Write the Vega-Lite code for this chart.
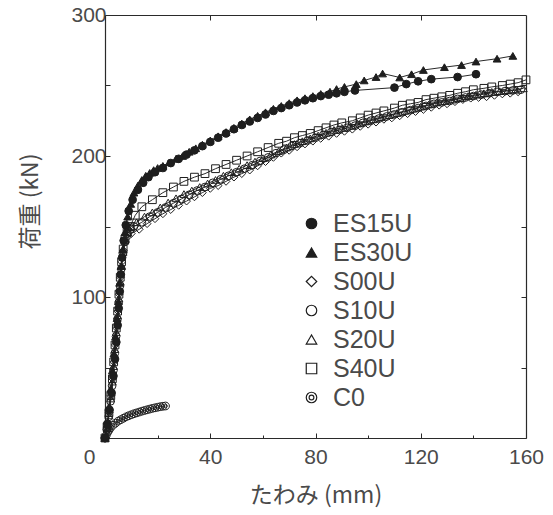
{
  "$schema": "https://vega.github.io/schema/vega-lite/v6.json",
  "autosize": "none",
  "width": 421,
  "height": 423,
  "padding": {"left": 105, "top": 15, "right": 27, "bottom": 77},
  "background": "white",
  "datasets": {
    "pts": [
      {"s":"ES30U","x":0,"y":0},{"s":"ES30U","x":0.8,"y":10},{"s":"ES30U","x":1.5,"y":22},{"s":"ES30U","x":2.2,"y":35},{"s":"ES30U","x":2.8,"y":48},{"s":"ES30U","x":3.4,"y":60},{"s":"ES30U","x":4,"y":72},{"s":"ES30U","x":4.6,"y":85},{"s":"ES30U","x":5.1,"y":97},{"s":"ES30U","x":5.6,"y":110},{"s":"ES30U","x":6.1,"y":122},{"s":"ES30U","x":6.8,"y":134},{"s":"ES30U","x":7.6,"y":146},{"s":"ES30U","x":8.6,"y":157},{"s":"ES30U","x":9.8,"y":166},{"s":"ES30U","x":11,"y":174},{"s":"ES30U","x":12.5,"y":179},{"s":"ES30U","x":14,"y":183},{"s":"ES30U","x":15.5,"y":186},{"s":"ES30U","x":17,"y":188},{"s":"ES30U","x":18.5,"y":190},{"s":"ES30U","x":20,"y":191.5},{"s":"ES30U","x":22,"y":193},{"s":"ES30U","x":24.5,"y":195.5},{"s":"ES30U","x":27,"y":198},{"s":"ES30U","x":29.5,"y":200},{"s":"ES30U","x":32,"y":203},{"s":"ES30U","x":34.5,"y":205.5},{"s":"ES30U","x":37,"y":208},{"s":"ES30U","x":40,"y":211},{"s":"ES30U","x":43,"y":214},{"s":"ES30U","x":46,"y":217},{"s":"ES30U","x":49,"y":220},{"s":"ES30U","x":52,"y":223},{"s":"ES30U","x":55,"y":226},{"s":"ES30U","x":58,"y":228.5},{"s":"ES30U","x":61,"y":231},{"s":"ES30U","x":64,"y":233.5},{"s":"ES30U","x":67,"y":235.5},{"s":"ES30U","x":70,"y":237.5},{"s":"ES30U","x":73,"y":239.5},{"s":"ES30U","x":76,"y":241},{"s":"ES30U","x":79,"y":242.5},{"s":"ES30U","x":82,"y":244},{"s":"ES30U","x":85.5,"y":245.6},{"s":"ES30U","x":88,"y":247.5},{"s":"ES30U","x":91,"y":249},{"s":"ES30U","x":95.5,"y":251},{"s":"ES30U","x":98.5,"y":253.6},{"s":"ES30U","x":103,"y":256},{"s":"ES30U","x":105.5,"y":258.5},{"s":"ES30U","x":112,"y":255.7},{"s":"ES30U","x":116.5,"y":258},{"s":"ES30U","x":121,"y":261},{"s":"ES30U","x":129,"y":263},{"s":"ES30U","x":135.5,"y":264.5},{"s":"ES30U","x":141,"y":267},{"s":"ES30U","x":149,"y":269},{"s":"ES30U","x":155,"y":271},

      {"s":"ES15U","x":0,"y":0},{"s":"ES15U","x":0.9,"y":10},{"s":"ES15U","x":1.7,"y":20},{"s":"ES15U","x":2.5,"y":32},{"s":"ES15U","x":3.2,"y":44},{"s":"ES15U","x":3.8,"y":56},{"s":"ES15U","x":4.3,"y":68},{"s":"ES15U","x":4.8,"y":80},{"s":"ES15U","x":5.2,"y":92},{"s":"ES15U","x":5.6,"y":104},{"s":"ES15U","x":6,"y":116},{"s":"ES15U","x":6.5,"y":128},{"s":"ES15U","x":7.1,"y":140},{"s":"ES15U","x":7.9,"y":151},{"s":"ES15U","x":9,"y":161},{"s":"ES15U","x":10.5,"y":169},{"s":"ES15U","x":12.5,"y":176},{"s":"ES15U","x":14.5,"y":181},{"s":"ES15U","x":16.5,"y":185},{"s":"ES15U","x":19,"y":188.5},{"s":"ES15U","x":22,"y":191.5},{"s":"ES15U","x":25,"y":195},{"s":"ES15U","x":28,"y":198},{"s":"ES15U","x":31,"y":201},{"s":"ES15U","x":34,"y":204},{"s":"ES15U","x":37,"y":207},{"s":"ES15U","x":40,"y":210},{"s":"ES15U","x":43,"y":213},{"s":"ES15U","x":46,"y":216},{"s":"ES15U","x":49,"y":219},{"s":"ES15U","x":52,"y":222},{"s":"ES15U","x":55,"y":224.5},{"s":"ES15U","x":58,"y":227},{"s":"ES15U","x":61,"y":229.5},{"s":"ES15U","x":64,"y":232},{"s":"ES15U","x":67,"y":234},{"s":"ES15U","x":70,"y":236},{"s":"ES15U","x":73,"y":238},{"s":"ES15U","x":76,"y":239.5},{"s":"ES15U","x":79,"y":241},{"s":"ES15U","x":82,"y":242.5},{"s":"ES15U","x":85,"y":243.5},{"s":"ES15U","x":88,"y":244.5},{"s":"ES15U","x":91,"y":245.5},{"s":"ES15U","x":95,"y":246.5},{"s":"ES15U","x":110,"y":248.5},{"s":"ES15U","x":114.5,"y":251},{"s":"ES15U","x":119,"y":253},{"s":"ES15U","x":124,"y":254.5},{"s":"ES15U","x":134,"y":256},{"s":"ES15U","x":141,"y":258},

      {"s":"S00U","x":0,"y":0},{"s":"S00U","x":0.9,"y":8},{"s":"S00U","x":1.6,"y":18},{"s":"S00U","x":2.3,"y":30},{"s":"S00U","x":2.9,"y":42},{"s":"S00U","x":3.4,"y":54},{"s":"S00U","x":3.9,"y":66},{"s":"S00U","x":4.4,"y":78},{"s":"S00U","x":4.9,"y":90},{"s":"S00U","x":5.4,"y":102},{"s":"S00U","x":5.9,"y":114},{"s":"S00U","x":6.4,"y":125},{"s":"S00U","x":7,"y":133},{"s":"S00U","x":7.8,"y":139},{"s":"S00U","x":8.8,"y":143},{"s":"S00U","x":10,"y":145},{"s":"S00U","x":13,"y":148},{"s":"S00U","x":16,"y":152},{"s":"S00U","x":19,"y":155.5},{"s":"S00U","x":22,"y":159},{"s":"S00U","x":25,"y":162},{"s":"S00U","x":28,"y":165},{"s":"S00U","x":31,"y":168},{"s":"S00U","x":34,"y":171},{"s":"S00U","x":37,"y":174},{"s":"S00U","x":40,"y":177},{"s":"S00U","x":43,"y":179},{"s":"S00U","x":46,"y":182},{"s":"S00U","x":49,"y":185},{"s":"S00U","x":52,"y":187.5},{"s":"S00U","x":55,"y":190},{"s":"S00U","x":58,"y":193},{"s":"S00U","x":61,"y":196},{"s":"S00U","x":64,"y":199},{"s":"S00U","x":67,"y":202},{"s":"S00U","x":70,"y":204},{"s":"S00U","x":73,"y":206.5},{"s":"S00U","x":76,"y":208.5},{"s":"S00U","x":79,"y":210.5},{"s":"S00U","x":82,"y":212.5},{"s":"S00U","x":85,"y":214},{"s":"S00U","x":88,"y":216},{"s":"S00U","x":91,"y":217.5},{"s":"S00U","x":94,"y":219},{"s":"S00U","x":97,"y":221},{"s":"S00U","x":100,"y":222.5},{"s":"S00U","x":103,"y":224},{"s":"S00U","x":106,"y":226},{"s":"S00U","x":109,"y":227},{"s":"S00U","x":112,"y":228.5},{"s":"S00U","x":115,"y":230},{"s":"S00U","x":118,"y":231.5},{"s":"S00U","x":121,"y":233},{"s":"S00U","x":124,"y":234.5},{"s":"S00U","x":127,"y":236},{"s":"S00U","x":130,"y":237},{"s":"S00U","x":133,"y":238.5},{"s":"S00U","x":136,"y":240},{"s":"S00U","x":139,"y":241},{"s":"S00U","x":142,"y":241.5},{"s":"S00U","x":145,"y":242},{"s":"S00U","x":148,"y":243},{"s":"S00U","x":151,"y":244},{"s":"S00U","x":154,"y":244.5},{"s":"S00U","x":157,"y":245.5},

      {"s":"S10U","x":0,"y":0},{"s":"S10U","x":0.7,"y":6},{"s":"S10U","x":1.4,"y":15},{"s":"S10U","x":2.1,"y":26},{"s":"S10U","x":2.7,"y":37},{"s":"S10U","x":3.2,"y":48},{"s":"S10U","x":3.7,"y":60},{"s":"S10U","x":4.2,"y":72},{"s":"S10U","x":4.7,"y":84},{"s":"S10U","x":5.2,"y":96},{"s":"S10U","x":5.7,"y":108},{"s":"S10U","x":6.2,"y":120},{"s":"S10U","x":6.8,"y":131},{"s":"S10U","x":7.5,"y":139},{"s":"S10U","x":8.5,"y":145},{"s":"S10U","x":9.7,"y":148},{"s":"S10U","x":11,"y":150},{"s":"S10U","x":14,"y":153},{"s":"S10U","x":17,"y":157},{"s":"S10U","x":20,"y":160},{"s":"S10U","x":23,"y":163.5},{"s":"S10U","x":26,"y":166.5},{"s":"S10U","x":29,"y":169.5},{"s":"S10U","x":32,"y":172.5},{"s":"S10U","x":35,"y":175.5},{"s":"S10U","x":38,"y":178},{"s":"S10U","x":41,"y":181},{"s":"S10U","x":44,"y":183.5},{"s":"S10U","x":47,"y":186},{"s":"S10U","x":50,"y":188.5},{"s":"S10U","x":53,"y":191},{"s":"S10U","x":56,"y":193.5},{"s":"S10U","x":59,"y":196.5},{"s":"S10U","x":62,"y":199},{"s":"S10U","x":65,"y":202},{"s":"S10U","x":68,"y":204.5},{"s":"S10U","x":71,"y":207},{"s":"S10U","x":74,"y":209},{"s":"S10U","x":77,"y":211},{"s":"S10U","x":80,"y":213},{"s":"S10U","x":83,"y":215},{"s":"S10U","x":86,"y":217},{"s":"S10U","x":89,"y":218.5},{"s":"S10U","x":92,"y":220},{"s":"S10U","x":95,"y":221.5},{"s":"S10U","x":98,"y":223.5},{"s":"S10U","x":101,"y":225},{"s":"S10U","x":104,"y":226.5},{"s":"S10U","x":107,"y":228},{"s":"S10U","x":110,"y":229.5},{"s":"S10U","x":113,"y":231},{"s":"S10U","x":116,"y":232.5},{"s":"S10U","x":119,"y":234},{"s":"S10U","x":122,"y":235.5},{"s":"S10U","x":125,"y":237},{"s":"S10U","x":128,"y":238},{"s":"S10U","x":131,"y":239},{"s":"S10U","x":134,"y":240.5},{"s":"S10U","x":137,"y":241.5},{"s":"S10U","x":140,"y":242.5},{"s":"S10U","x":143,"y":243.5},{"s":"S10U","x":146,"y":244.5},{"s":"S10U","x":149,"y":245.5},{"s":"S10U","x":152,"y":246},{"s":"S10U","x":155,"y":246.5},{"s":"S10U","x":158,"y":247},

      {"s":"S20U","x":0,"y":0},{"s":"S20U","x":0.8,"y":7},{"s":"S20U","x":1.5,"y":16},{"s":"S20U","x":2.2,"y":28},{"s":"S20U","x":2.8,"y":40},{"s":"S20U","x":3.3,"y":51},{"s":"S20U","x":3.8,"y":63},{"s":"S20U","x":4.3,"y":75},{"s":"S20U","x":4.8,"y":87},{"s":"S20U","x":5.3,"y":99},{"s":"S20U","x":5.8,"y":111},{"s":"S20U","x":6.3,"y":122},{"s":"S20U","x":6.9,"y":132},{"s":"S20U","x":7.6,"y":140},{"s":"S20U","x":8.6,"y":146},{"s":"S20U","x":10,"y":150},{"s":"S20U","x":12,"y":153},{"s":"S20U","x":15,"y":157},{"s":"S20U","x":18,"y":160},{"s":"S20U","x":21,"y":163.5},{"s":"S20U","x":24,"y":167},{"s":"S20U","x":27,"y":170},{"s":"S20U","x":30,"y":173},{"s":"S20U","x":33,"y":175.5},{"s":"S20U","x":36,"y":178},{"s":"S20U","x":39,"y":180.5},{"s":"S20U","x":42,"y":183},{"s":"S20U","x":45,"y":186},{"s":"S20U","x":48,"y":188.5},{"s":"S20U","x":51,"y":191},{"s":"S20U","x":54,"y":193.5},{"s":"S20U","x":57,"y":196},{"s":"S20U","x":60,"y":198.5},{"s":"S20U","x":63,"y":201},{"s":"S20U","x":66,"y":203.5},{"s":"S20U","x":69,"y":206},{"s":"S20U","x":72,"y":208.5},{"s":"S20U","x":75,"y":210.5},{"s":"S20U","x":78,"y":212.5},{"s":"S20U","x":81,"y":214.5},{"s":"S20U","x":84,"y":216.5},{"s":"S20U","x":87,"y":218.5},{"s":"S20U","x":90,"y":220},{"s":"S20U","x":93,"y":221.5},{"s":"S20U","x":96,"y":223},{"s":"S20U","x":99,"y":224.5},{"s":"S20U","x":102,"y":226},{"s":"S20U","x":105,"y":227.5},{"s":"S20U","x":108,"y":229},{"s":"S20U","x":111,"y":230.5},{"s":"S20U","x":114,"y":232},{"s":"S20U","x":117,"y":233.5},{"s":"S20U","x":120,"y":235},{"s":"S20U","x":123,"y":236.5},{"s":"S20U","x":126,"y":238},{"s":"S20U","x":129,"y":239},{"s":"S20U","x":132,"y":240},{"s":"S20U","x":135,"y":241},{"s":"S20U","x":138,"y":242.5},{"s":"S20U","x":141,"y":243.5},{"s":"S20U","x":144,"y":244.5},{"s":"S20U","x":147,"y":245.5},{"s":"S20U","x":150,"y":246},{"s":"S20U","x":153,"y":246.5},{"s":"S20U","x":156,"y":247},{"s":"S20U","x":159,"y":248},

      {"s":"S40U","x":0,"y":0},{"s":"S40U","x":0.8,"y":8},{"s":"S40U","x":1.5,"y":18},{"s":"S40U","x":2.2,"y":30},{"s":"S40U","x":2.8,"y":42},{"s":"S40U","x":3.3,"y":54},{"s":"S40U","x":3.8,"y":66},{"s":"S40U","x":4.3,"y":78},{"s":"S40U","x":4.8,"y":90},{"s":"S40U","x":5.3,"y":102},{"s":"S40U","x":5.8,"y":114},{"s":"S40U","x":6.3,"y":125},{"s":"S40U","x":6.9,"y":134},{"s":"S40U","x":7.6,"y":141},{"s":"S40U","x":8.4,"y":146},{"s":"S40U","x":9.5,"y":150},{"s":"S40U","x":11.5,"y":158},{"s":"S40U","x":14,"y":164},{"s":"S40U","x":18,"y":169},{"s":"S40U","x":22,"y":174},{"s":"S40U","x":26,"y":178},{"s":"S40U","x":30,"y":182},{"s":"S40U","x":34,"y":185},{"s":"S40U","x":38,"y":187.5},{"s":"S40U","x":42,"y":191},{"s":"S40U","x":46,"y":194},{"s":"S40U","x":50,"y":197},{"s":"S40U","x":54,"y":200},{"s":"S40U","x":58,"y":203},{"s":"S40U","x":62,"y":206},{"s":"S40U","x":66,"y":209},{"s":"S40U","x":69,"y":210.5},{"s":"S40U","x":72,"y":213},{"s":"S40U","x":75,"y":214.5},{"s":"S40U","x":78,"y":216},{"s":"S40U","x":81,"y":218},{"s":"S40U","x":84,"y":220},{"s":"S40U","x":87,"y":222},{"s":"S40U","x":90,"y":223.5},{"s":"S40U","x":94,"y":225},{"s":"S40U","x":97,"y":227},{"s":"S40U","x":100,"y":229},{"s":"S40U","x":103,"y":230.5},{"s":"S40U","x":106,"y":232},{"s":"S40U","x":110,"y":234},{"s":"S40U","x":113,"y":236},{"s":"S40U","x":116,"y":237},{"s":"S40U","x":119,"y":238},{"s":"S40U","x":122,"y":240},{"s":"S40U","x":125,"y":241},{"s":"S40U","x":128,"y":242},{"s":"S40U","x":131,"y":243},{"s":"S40U","x":134,"y":244.5},{"s":"S40U","x":137,"y":245.6},{"s":"S40U","x":140,"y":247},{"s":"S40U","x":144,"y":248},{"s":"S40U","x":147,"y":249},{"s":"S40U","x":151,"y":250},{"s":"S40U","x":154,"y":251},{"s":"S40U","x":157,"y":252},{"s":"S40U","x":160,"y":254},

      {"s":"C0","x":0,"y":0},{"s":"C0","x":0.5,"y":2},{"s":"C0","x":1,"y":4},{"s":"C0","x":1.5,"y":5.5},{"s":"C0","x":2,"y":7},{"s":"C0","x":3,"y":9},{"s":"C0","x":4,"y":10.5},{"s":"C0","x":5,"y":12},{"s":"C0","x":6,"y":13},{"s":"C0","x":7,"y":14},{"s":"C0","x":8,"y":15},{"s":"C0","x":9,"y":15.8},{"s":"C0","x":10,"y":16.5},{"s":"C0","x":11,"y":17.2},{"s":"C0","x":12,"y":17.8},{"s":"C0","x":13,"y":18.4},{"s":"C0","x":14,"y":19},{"s":"C0","x":15,"y":19.5},{"s":"C0","x":16,"y":20},{"s":"C0","x":17,"y":20.5},{"s":"C0","x":18,"y":21},{"s":"C0","x":19,"y":21.4},{"s":"C0","x":20,"y":21.8},{"s":"C0","x":21,"y":22.2},{"s":"C0","x":22,"y":22.5},{"s":"C0","x":23,"y":22.7}
    ]
  },
  "data": {"name": "pts"},
  "layer": [
    {
      "mark": {"type": "line", "color": "#2a2a2a", "strokeWidth": 1},
      "encoding": {
        "x": {
          "field": "x", "type": "quantitative",
          "scale": {"domain": [0, 160], "nice": false, "zero": false},
          "axis": {
            "orient": "bottom",
            "values": [0, 20, 40, 60, 80, 100, 120, 140, 160],
            "labelExpr": "datum.value % 40 == 0 ? datum.label : ''",
            "labelFlush": false,
            "labelOverlap": false,
            "tickSize": {"condition": {"test": "datum.value % 40 == 0", "value": -5}, "value": -3},
            "labelAlign": {"condition": {"test": "datum.value == 0", "value": "right"}, "value": "center"},
            "labelOffset": {"condition": {"test": "datum.value == 0", "value": -10}, "value": 0},
            "labelPadding": 13,
            "title": "たわみ (mm)",
            "titlePadding": 15
          }
        },
        "y": {
          "field": "y", "type": "quantitative",
          "scale": {"domain": [0, 300], "nice": false},
          "axis": {
            "orient": "left",
            "values": [0, 50, 100, 150, 200, 250, 300],
            "labelExpr": "datum.value % 100 == 0 && datum.value > 0 ? datum.label : ''",
            "labelFlush": false,
            "labelOverlap": false,
            "tickSize": -5,
            "labelPadding": 4,
            "title": "荷重 (kN)",
            "titlePadding": 28,
            "titleY": 186
          }
        },
        "detail": {"field": "s"}
      }
    },
    {
      "mark": {"type": "point", "strokeWidth": 1, "size": 60, "opacity": 1},
      "encoding": {
        "x": {
          "field": "x", "type": "quantitative",
          "axis": {"orient": "top", "values": [40, 80, 120], "labels": false, "tickSize": -5, "title": null}
        },
        "y": {
          "field": "y", "type": "quantitative",
          "axis": {"orient": "right", "values": [50, 100, 150, 200, 250], "labels": false, "tickSize": -5, "title": null}
        },
        "shape": {
          "field": "s", "type": "nominal",
          "scale": {
            "domain": ["ES15U", "ES30U", "S00U", "S10U", "S20U", "S40U", "C0"],
            "range": ["circle", "triangle-up", "diamond", "circle", "triangle-up", "square", "M-1,0A1,1,0,1,1,1,0A1,1,0,1,1,-1,0M-0.45,0A0.45,0.45,0,1,1,0.45,0A0.45,0.45,0,1,1,-0.45,0"]
          },
          "legend": {"title": null}
        },
        "fill": {
          "field": "s", "type": "nominal",
          "scale": {
            "domain": ["ES15U", "ES30U", "S00U", "S10U", "S20U", "S40U", "C0"],
            "range": ["#1e1e1e", "#1e1e1e", "transparent", "transparent", "transparent", "transparent", "transparent"]
          },
          "legend": {"title": null}
        },
        "stroke": {
          "field": "s", "type": "nominal",
          "scale": {
            "domain": ["ES15U", "ES30U", "S00U", "S10U", "S20U", "S40U", "C0"],
            "range": ["#1e1e1e", "#1e1e1e", "#1e1e1e", "#1e1e1e", "#1e1e1e", "#1e1e1e", "#1e1e1e"]
          },
          "legend": {"title": null}
        }
      }
    }
  ],
  "resolve": {"axis": {"x": "independent", "y": "independent"}},
  "config": {
    "view": {"stroke": null},
    "axis": {
      "grid": false,
      "domainColor": "#2a2a2a",
      "domainWidth": 1.2,
      "tickColor": "#2a2a2a",
      "tickWidth": 1,
      "labelFont": "Liberation Sans",
      "labelFontSize": 21,
      "labelColor": "#4a4a4a",
      "titleFont": "Noto Sans CJK JP",
      "titleFontSize": 23,
      "titleFontWeight": "normal",
      "titleColor": "#4a4a4a"
    },
    "legend": {
      "orient": "none",
      "legendX": 194,
      "legendY": 196,
      "padding": 0,
      "labelFont": "Liberation Sans",
      "labelFontSize": 25,
      "labelColor": "#4a4a4a",
      "symbolSize": 110,
      "symbolStrokeWidth": 1.2,
      "rowPadding": 3,
      "labelOffset": 9
    }
  }
}
